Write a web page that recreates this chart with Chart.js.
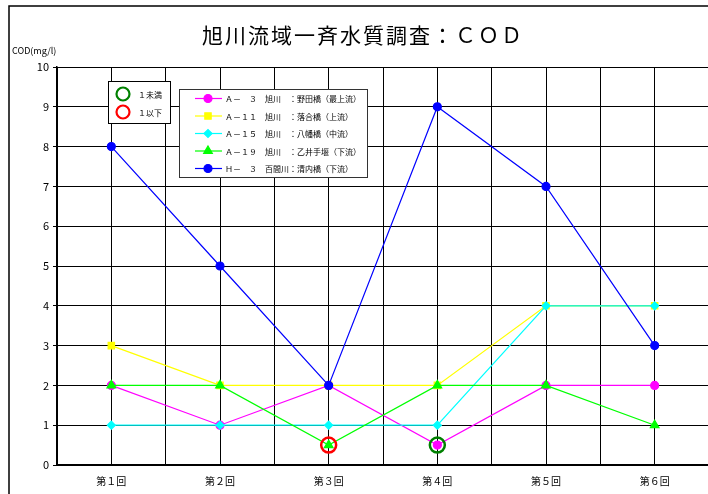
<!DOCTYPE html>
<html>
<head>
<meta charset="utf-8">
<script src="https://cdn.jsdelivr.net/npm/chart.js@4.4.1/dist/chart.umd.min.js"></script>
<style>
  html, body { margin: 0; padding: 0; background: #fff; overflow: hidden; }
  #wrap { width: 708px; height: 494px; position: relative; overflow: hidden; }
  #c { position: absolute; left: 0; top: 0; }
</style>
</head>
<body>
<div id="wrap"><canvas id="c" width="719" height="494"></canvas></div>
<script>
const FONT = '"Noto Sans CJK JP", "Noto Sans", sans-serif';

const chartTitle = '旭川流域一斉水質調査：ＣＯＤ';
const yAxisTitle = 'COD(mg/l)';
const categories = ['第１回', '第２回', '第３回', '第４回', '第５回', '第６回'];

const seriesNames = [
  'Ａ－　３　旭川　：野田橋（最上流）',
  'Ａ－１１　旭川　：落合橋（上流）',
  'Ａ－１５　旭川　：八幡橋（中流）',
  'Ａ－１９　旭川　：乙井手堰（下流）',
  'Ｈ－　３　百間川：清内橋（下流）'
];
const a3  = [2, 1, 2, 0.5, 2, 2];
const a11 = [3, 2, 2, 2, 4, 4];
const a15 = [1, 1, 1, 1, 4, 4];
const a19 = [2, 2, 0.5, 2, 2, 1];
const h3  = [8, 5, 2, 9, 7, 3];

// Flagged results: [category number, value]
const belowOne = [[4, 0.5]];     // １未満
const atMostOne = [[3, 0.5]];    // １以下
const flagNames = ['１未満', '１以下'];

const colors = ['#ff00ff', '#ffff00', '#00ffff', '#00ff00', '#0000ff'];
const markers = ['circle', 'rect', 'rectRot', 'triangle', 'circle'];
const radii = [4, 4.5, 4, 5, 4];
const values = [a3, a11, a15, a19, h3];

const toPts = arr => arr.map((v, i) => ({ x: i + 1, y: v }));

const lineSets = values.map((v, k) => ({
  label: seriesNames[k],
  data: toPts(v),
  borderColor: colors[k],
  backgroundColor: colors[k],
  borderWidth: 1.2,
  pointStyle: markers[k],
  pointRadius: radii[k],
  pointHoverRadius: radii[k],
  showLine: true,
  order: 10 - k
}));

const ringSets = [
  { data: belowOne.map(p => ({ x: p[0], y: p[1] })), color: '#008000' },
  { data: atMostOne.map(p => ({ x: p[0], y: p[1] })), color: '#ff0000' }
].map(r => ({
  data: r.data,
  borderColor: r.color,
  backgroundColor: 'rgba(0,0,0,0)',
  borderWidth: 2.5,
  pointStyle: 'circle',
  pointRadius: 7.5,
  pointHoverRadius: 7.5,
  showLine: false,
  order: 0
}));

const decor = {
  id: 'decor',
  afterDraw(chart) {
    const ctx = chart.ctx;
    ctx.save();
    // frame
    ctx.strokeStyle = '#000';
    ctx.lineWidth = 1.5;
    ctx.strokeRect(9, 6, 760, 560);
    // title
    ctx.fillStyle = '#000';
    ctx.font = '21px ' + FONT;
    ctx.textAlign = 'center';
    ctx.textBaseline = 'middle';
    ctx.letterSpacing = '2px';
    ctx.fillText(chartTitle, 363, 35);
    ctx.letterSpacing = '0px';
    // y axis title
    ctx.font = '9px ' + FONT;
    ctx.textAlign = 'left';
    ctx.fillText(yAxisTitle, 12, 51);

    // flag legend
    ctx.fillStyle = '#fff';
    ctx.fillRect(108, 81, 62, 42);
    ctx.strokeStyle = '#000';
    ctx.lineWidth = 1;
    ctx.strokeRect(108.5, 81.5, 62, 42);
    const flagColors = ['#008000', '#ff0000'];
    flagNames.forEach((t, i) => {
      const y = 94 + i * 18;
      ctx.beginPath();
      ctx.arc(123, y, 6.5, 0, Math.PI * 2);
      ctx.strokeStyle = flagColors[i];
      ctx.lineWidth = 2.2;
      ctx.stroke();
      ctx.fillStyle = '#000';
      ctx.font = '8px ' + FONT;
      ctx.textAlign = 'left';
      ctx.fillText(t, 138, y + 0.5);
    });

    // series legend
    ctx.fillStyle = '#fff';
    ctx.fillRect(179, 89, 188, 88);
    ctx.strokeStyle = '#333';
    ctx.lineWidth = 1;
    ctx.strokeRect(179.5, 89.5, 188, 88);
    seriesNames.forEach((t, k) => {
      const y = 98.5 + k * 17.5;
      ctx.strokeStyle = colors[k];
      ctx.lineWidth = 1.2;
      ctx.beginPath();
      ctx.moveTo(195, y);
      ctx.lineTo(222, y);
      ctx.stroke();
      ctx.fillStyle = colors[k];
      Chart.helpers.drawPoint(ctx, {
        pointStyle: markers[k], radius: radii[k], rotation: 0, borderWidth: 1
      }, 208, y);
      ctx.fillStyle = '#000';
      ctx.font = '8px ' + FONT;
      ctx.textAlign = 'left';
      ctx.fillText(t, 225, y + 0.5);
    });
    ctx.restore();
  }
};

new Chart(document.getElementById('c'), {
  type: 'scatter',
  data: { datasets: [...ringSets, ...lineSets] },
  options: {
    responsive: false,
    animation: false,
    events: [],
    layout: { padding: { top: 67, left: 0, right: 0, bottom: 0 } },
    plugins: { legend: { display: false }, tooltip: { enabled: false } },
    scales: {
      x: {
        type: 'linear',
        min: 0.5,
        max: 6.5,
        afterFit(s) { s.height = 29; s.paddingLeft = 0; s.paddingRight = 0; },
        afterBuildTicks(s) {
          const t = [];
          for (let v = 0.5; v <= 6.5001; v += 0.5) t.push({ value: v });
          s.ticks = t;
        },
        ticks: {
          autoSkip: false,
          maxRotation: 0,
          color: '#000',
          font: { size: 10, family: FONT },
          padding: 10,
          callback: v => Number.isInteger(v) ? categories[v - 1] : ''
        },
        grid: { color: '#000', lineWidth: 1, drawTicks: false },
        border: { color: '#000', width: 2 }
      },
      y: {
        min: 0,
        max: 10,
        afterFit(s) { s.width = 57; },
        ticks: {
          stepSize: 1,
          color: '#000',
          font: { size: 11, family: FONT },
          padding: 4
        },
        grid: { color: '#000', lineWidth: 1, tickLength: 4 },
        border: { color: '#000', width: 1.5 }
      }
    }
  },
  plugins: [decor]
});
</script>
</body>
</html>
